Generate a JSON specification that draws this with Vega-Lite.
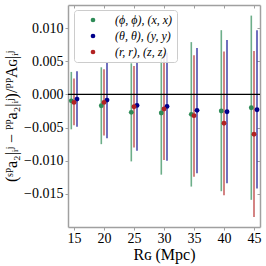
{
  "$schema": "https://vega.github.io/schema/vega-lite/v6.json",
  "width": 192,
  "height": 222,
  "autosize": {"type": "none"},
  "padding": {"left": 68, "top": 5, "right": 6, "bottom": 39},
  "background": "white",
  "config": {
    "view": {"stroke": null},
    "font": "Liberation Serif",
    "axis": {"grid": false, "domainColor": "#a0a0a0", "domainWidth": 1.5, "tickColor": "#a0a0a0", "labelFont": "Liberation Serif", "titleFont": "Liberation Serif", "labelFontSize": 14, "titleFontSize": 15, "labelColor": "black", "titleColor": "black", "titleFontWeight": "normal"}
  },
  "datasets": {
    "d": [
      {"R": 14.55, "s": "(ϕ, ϕ), (x, x)", "c": -0.00096, "lo": -0.00526, "hi": 0.0034},
      {"R": 15.5, "s": "(θ, θ), (y, y)", "c": -0.0007, "lo": -0.00486, "hi": 0.0035},
      {"R": 15.0, "s": "(r, r), (z, z)", "c": -0.0012, "lo": -0.00465, "hi": 0.0024},
      {"R": 19.55, "s": "(ϕ, ϕ), (x, x)", "c": -0.0017, "lo": -0.0075, "hi": 0.0041},
      {"R": 20.5, "s": "(θ, θ), (y, y)", "c": -0.00085, "lo": -0.0066, "hi": 0.0048},
      {"R": 20.0, "s": "(r, r), (z, z)", "c": -0.0012, "lo": -0.0062, "hi": 0.0038},
      {"R": 24.55, "s": "(ϕ, ϕ), (x, x)", "c": -0.0027, "lo": -0.0101, "hi": 0.0047},
      {"R": 25.5, "s": "(θ, θ), (y, y)", "c": -0.00165, "lo": -0.0085, "hi": 0.0049},
      {"R": 25.0, "s": "(r, r), (z, z)", "c": -0.00186, "lo": -0.008, "hi": 0.0043},
      {"R": 29.55, "s": "(ϕ, ϕ), (x, x)", "c": -0.0028, "lo": -0.0121, "hi": 0.0065},
      {"R": 30.5, "s": "(θ, θ), (y, y)", "c": -0.0018, "lo": -0.01, "hi": 0.0063},
      {"R": 30.0, "s": "(r, r), (z, z)", "c": -0.0022, "lo": -0.0099, "hi": 0.0062},
      {"R": 34.55, "s": "(ϕ, ϕ), (x, x)", "c": -0.003, "lo": -0.0139, "hi": 0.0079},
      {"R": 35.5, "s": "(θ, θ), (y, y)", "c": -0.0024, "lo": -0.0119, "hi": 0.007},
      {"R": 35.0, "s": "(r, r), (z, z)", "c": -0.0032, "lo": -0.0124, "hi": 0.0059},
      {"R": 39.55, "s": "(ϕ, ϕ), (x, x)", "c": -0.0025, "lo": -0.0146, "hi": 0.0097},
      {"R": 40.5, "s": "(θ, θ), (y, y)", "c": -0.0026, "lo": -0.0134, "hi": 0.0082},
      {"R": 40.0, "s": "(r, r), (z, z)", "c": -0.00435, "lo": -0.0152, "hi": 0.0065},
      {"R": 44.55, "s": "(ϕ, ϕ), (x, x)", "c": -0.002, "lo": -0.0159, "hi": 0.0119},
      {"R": 45.5, "s": "(θ, θ), (y, y)", "c": -0.0023, "lo": -0.0142, "hi": 0.0097},
      {"R": 45.0, "s": "(r, r), (z, z)", "c": -0.006, "lo": -0.0185, "hi": 0.00655}
    ]
  },
  "layer": [
    {
      "data": {"name": "d"},
      "mark": {"type": "rule", "strokeWidth": 1.6, "opacity": 0.7},
      "encoding": {
        "x": {"field": "R", "type": "quantitative", "scale": {"domain": [14, 46], "nice": false, "zero": false},
              "axis": {"orient": "bottom", "values": [15, 20, 25, 30, 35, 40, 45], "tickSize": 3, "labelPadding": 1, "title": "Rɢ (Mpc)", "titlePadding": 1, "titleFontSize": 16}},
        "y": {"field": "lo", "type": "quantitative", "scale": {"domain": [-0.02, 0.0135], "nice": false, "zero": false},
              "axis": {"orient": "left", "values": [-0.015, -0.01, -0.005, 0, 0.005, 0.01], "format": ".3f", "tickSize": 3, "labelPadding": 2, "title": "(ˢᴾa₂|ᵢʲ − ᴾᴾa₂|ᵢʲ)/ᴾᴾAɢ|ᵢʲ", "titlePadding": 4, "titleFontSize": 16}},
        "y2": {"field": "hi"},
        "color": {"field": "s", "type": "nominal",
                  "scale": {"domain": ["(ϕ, ϕ), (x, x)", "(θ, θ), (y, y)", "(r, r), (z, z)"], "range": ["#2e8b57", "#00008b", "#b22222"]},
                  "legend": {"orient": "none", "legendX": 6, "legendY": 5, "title": null, "symbolType": "circle", "symbolSize": 22, "symbolOpacity": 1, "symbolStrokeWidth": 0,
                             "strokeColor": "#cccccc", "fillColor": "rgba(255,255,255,0.85)", "cornerRadius": 3, "padding": 4,
                             "symbolOffset": 9, "labelOffset": 16, "rowPadding": 4, "labelFont": "Liberation Serif", "labelFontStyle": "italic", "labelFontSize": 12, "labelColor": "black"}}
      }
    },
    {
      "data": {"values": [{"z": 0}]},
      "mark": {"type": "rule", "color": "black", "strokeWidth": 1.2},
      "encoding": {
        "y": {"field": "z", "type": "quantitative", "scale": {"domain": [-0.02, 0.0135], "nice": false, "zero": false}, "axis": null}
      }
    },
    {
      "data": {"name": "d"},
      "mark": {"type": "circle", "size": 24, "opacity": 1},
      "encoding": {
        "x": {"field": "R", "type": "quantitative", "scale": {"domain": [14, 46], "nice": false, "zero": false},
              "axis": {"orient": "top", "values": [15, 20, 25, 30, 35, 40, 45], "labels": false, "tickSize": -3, "title": null}},
        "y": {"field": "c", "type": "quantitative", "scale": {"domain": [-0.02, 0.0135], "nice": false, "zero": false},
              "axis": {"orient": "right", "values": [-0.015, -0.01, -0.005, 0, 0.005, 0.01], "labels": false, "tickSize": -3, "title": null}},
        "color": {"field": "s", "type": "nominal",
                  "scale": {"domain": ["(ϕ, ϕ), (x, x)", "(θ, θ), (y, y)", "(r, r), (z, z)"], "range": ["#2e8b57", "#00008b", "#b22222"]}}
      }
    }
  ],
  "resolve": {"axis": {"x": "independent", "y": "independent"}}
}
